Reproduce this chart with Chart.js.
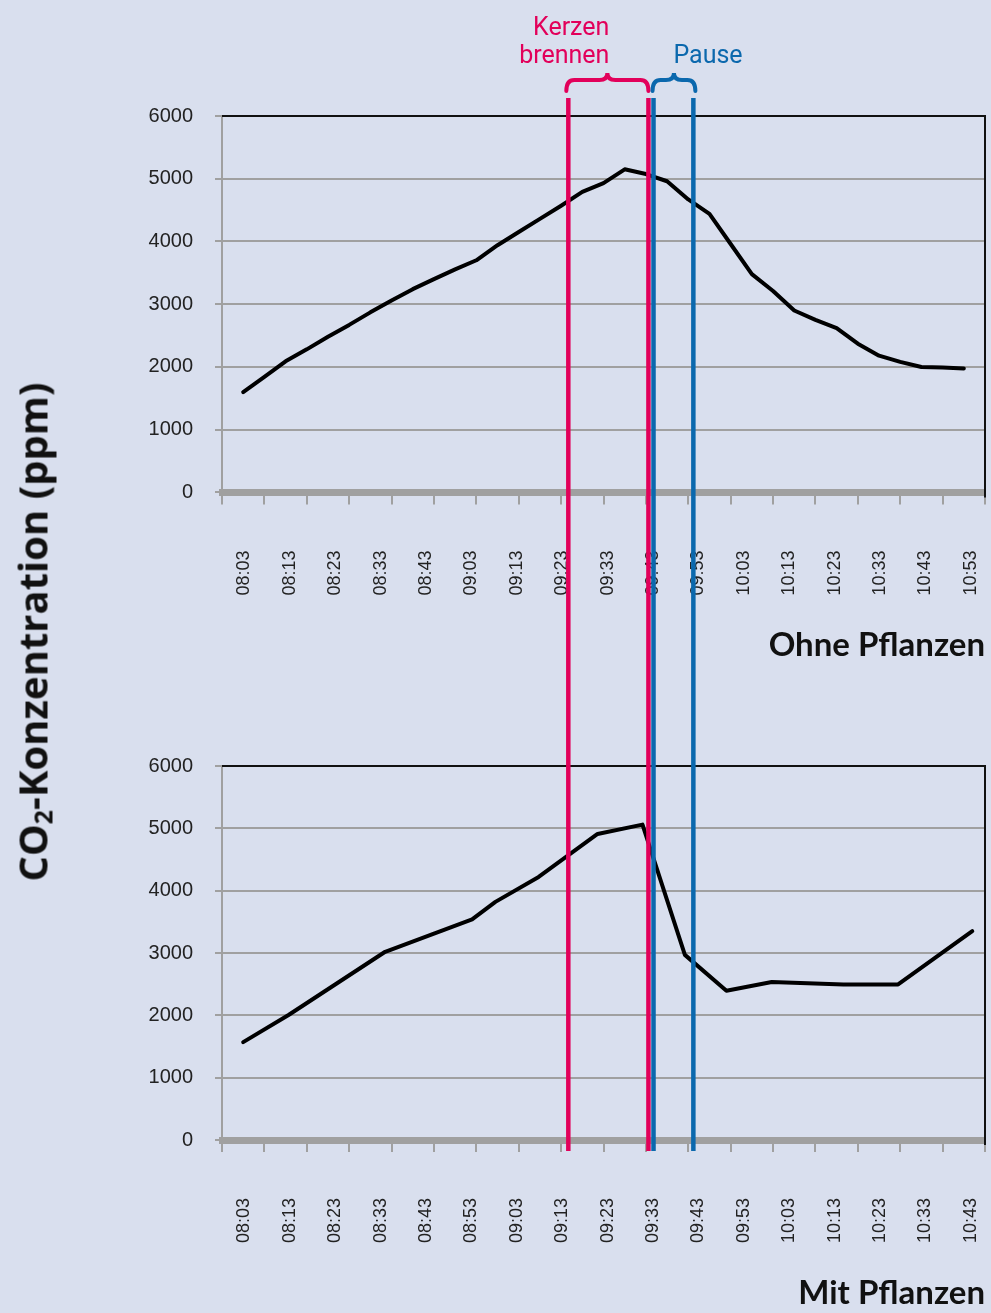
<!DOCTYPE html>
<html lang="de">
<head>
<meta charset="utf-8">
<title>CO2-Konzentration mit und ohne Pflanzen</title>
<script src="https://cdn.jsdelivr.net/npm/chart.js@4.4.1/dist/chart.umd.min.js"></script>
<style>
  html, body { margin: 0; padding: 0; background: #d9dfee; }
  #seite { position: relative; width: 991px; height: 1313px; overflow: hidden; }
  .box { position: absolute; left: 0; width: 991px; }
  .box canvas { display: block; }
  #box1 { top: 0; height: 665px; }
  #box2 { top: 665px; height: 648px; }
  #ytitel {
    position: absolute; left: 32px; top: 632px;
    transform: translate(-50%, -50%) rotate(-90deg);
    font: 700 40px "Open Sans", sans-serif; color: #111; white-space: nowrap;
  }
  #ytitel sub { font-size: 0.62em; vertical-align: -0.22em; line-height: 0; }
</style>
</head>
<body>
<div id="seite">
  <div class="box" id="box1"><canvas id="ohne"></canvas></div>
  <div class="box" id="box2"><canvas id="mit"></canvas></div>
  <div id="ytitel">CO<sub>2</sub>-Konzentration (ppm)</div>
</div>
<script>
// Messzeitpunkte in Minuten nach 08:03
var minutenOhne = [0, 5, 10, 15, 20, 25, 30, 35, 40, 45, 50, 55, 60, 65, 70, 75, 80, 85,
  90, 95, 100, 105, 110, 115, 120, 125, 130, 135, 140, 145, 150, 155, 160, 165, 170];
var ohnePflanzen = [1600, 1840, 2090, 2280, 2480, 2670, 2870, 3060, 3240, 3400, 3555, 3700,
  3940, 4150, 4360, 4570, 4790, 4930, 5150, 5075, 4960, 4670, 4440, 3960, 3480, 3210,
  2900, 2750, 2620, 2370, 2180, 2080, 2000, 1990, 1975];

var minutenMit = [0, 10.7, 33.5, 54, 59.5, 69.7, 83.6, 94.2, 104.2, 114, 124.7, 141.6, 154.5, 172];
var mitPflanzen = [1570, 2005, 3020, 3540, 3820, 4220, 4910, 5060, 2970, 2395, 2535, 2495, 2495, 3350];

// Beschriftung der Zeitachse
var zeitenOhne = ["08:03", "08:13", "08:23", "08:33", "08:43", "09:03", "09:13", "09:23", "09:33",
  "09:43", "09:53", "10:03", "10:13", "10:23", "10:33", "10:43", "10:53"];
var zeitenMit = ["08:03", "08:13", "08:23", "08:33", "08:43", "08:53", "09:03", "09:13", "09:23",
  "09:33", "09:43", "09:53", "10:03", "10:13", "10:23", "10:33", "10:43"];

// Phasen (Minuten nach 08:03)
var kerzen = [76.7, 95.6];
var pause = [96.8, 106.2];

var PINK = "#e2005a";
var BLAU = "#0b68ad";
var GRAU = "#a0a0a0";

function klammer(ctx, x0, x1, yBasis) {
  var xc = (x0 + x1) / 2, r = 8, ym = yBasis - 11, yt = yBasis - 18;
  ctx.beginPath();
  ctx.moveTo(x0, yBasis);
  ctx.quadraticCurveTo(x0, ym, x0 + r, ym);
  ctx.lineTo(xc - r, ym);
  ctx.quadraticCurveTo(xc, ym, xc, yt);
  ctx.quadraticCurveTo(xc, ym, xc + r, ym);
  ctx.lineTo(x1 - r, ym);
  ctx.quadraticCurveTo(x1, ym, x1, yBasis);
  ctx.stroke();
}

var markierung = {
  id: "markierung",
  afterDraw: function (chart, args, o) {
    var ctx = chart.ctx, a = chart.chartArea, sx = chart.scales.x;
    ctx.save();
    // Rahmen oben und rechts
    ctx.strokeStyle = "#111";
    ctx.lineWidth = 2;
    ctx.beginPath();
    ctx.moveTo(a.left, a.top);
    ctx.lineTo(a.right, a.top);
    ctx.lineTo(a.right, a.bottom + 5);
    ctx.stroke();

    // senkrechte Linien ueber beide Diagramme
    var y0 = o.oben ? a.top - 18 : 0;
    var y1 = o.oben ? chart.height : a.bottom + 11;
    var linien = [[kerzen[0], PINK], [kerzen[1], PINK], [pause[0], BLAU], [pause[1], BLAU]];
    ctx.lineWidth = 4.5;
    linien.forEach(function (l) {
      var px = sx.getPixelForValue(l[0]);
      ctx.strokeStyle = l[1];
      ctx.beginPath();
      ctx.moveTo(px, y0);
      ctx.lineTo(px, y1);
      ctx.stroke();
    });

    if (o.oben) {
      var k0 = sx.getPixelForValue(kerzen[0]), k1 = sx.getPixelForValue(kerzen[1]);
      var p0 = sx.getPixelForValue(pause[0]), p1 = sx.getPixelForValue(pause[1]);
      ctx.lineWidth = 4;
      ctx.lineCap = "round";
      ctx.strokeStyle = PINK;
      klammer(ctx, k0 - 2, k1, a.top - 25);
      ctx.strokeStyle = BLAU;
      klammer(ctx, p0 - 1, p1 + 2, a.top - 25);

      ctx.font = "25px Roboto, sans-serif";
      ctx.textBaseline = "alphabetic";
      ctx.fillStyle = PINK;
      ctx.textAlign = "right";
      var kc = (k0 + k1) / 2 + 1;
      ctx.fillText("Kerzen", kc, a.top - 81);
      ctx.fillText("brennen", kc, a.top - 53);
      ctx.fillStyle = BLAU;
      ctx.textAlign = "left";
      ctx.fillText("Pause", (p0 + p1) / 2, a.top - 53);
    }
    ctx.restore();
  }
};

function diagramm(id, minuten, werte, zeiten, titel, padTop, titelPad, oben) {
  var punkte = minuten.map(function (m, i) { return { x: m, y: werte[i] }; });
  return new Chart(id, {
    type: "line",
    data: {
      datasets: [{
        data: punkte,
        borderColor: "#000",
        borderWidth: 4,
        pointRadius: 0,
        tension: 0,
        borderCapStyle: "round",
        borderJoinStyle: "round",
        fill: false
      }]
    },
    plugins: [markierung],
    options: {
      responsive: true,
      maintainAspectRatio: false,
      animation: false,
      layout: { padding: { top: padTop, left: 122, right: 6, bottom: 0 } },
      plugins: {
        legend: { display: false },
        tooltip: { enabled: false },
        markierung: { oben: oben },
        title: {
          display: true,
          text: titel,
          position: "bottom",
          align: "end",
          color: "#111",
          font: { family: "Lato, sans-serif", weight: "bold", size: 33 },
          padding: { top: titelPad, bottom: 0 }
        }
      },
      scales: {
        x: {
          type: "linear",
          min: -5,
          max: 175,
          position: "bottom",
          weight: 0,
          afterBuildTicks: function (s) {
            s.ticks = [];
            for (var i = 0; i <= 18; i++) s.ticks.push({ value: s.min + i * (s.max - s.min) / 18 });
          },
          ticks: { display: false },
          grid: { drawOnChartArea: false, tickLength: 12, color: GRAU, lineWidth: 2 },
          border: { color: GRAU, width: 7 }
        },
        xl: {
          type: "linear",
          min: -0.4934,
          max: 16.313,
          position: "bottom",
          weight: 1,
          afterBuildTicks: function (s) {
            s.ticks = zeiten.map(function (z, i) { return { value: i }; });
          },
          afterFit: function (s) {
            s.height = 100;
            s.paddingLeft = 0;
            s.paddingRight = 0;
          },
          grid: { display: false, drawTicks: false },
          border: { display: false },
          ticks: {
            autoSkip: false,
            maxRotation: 90,
            minRotation: 90,
            padding: 46,
            color: "#222",
            font: { family: "'Liberation Sans', Arial, sans-serif", size: 18 },
            callback: function (v) { return zeiten[v]; }
          }
        },
        y: {
          min: 0,
          max: 6000,
          afterFit: function (s) { s.width = 100; },
          ticks: {
            stepSize: 1000,
            padding: 22,
            color: "#222",
            font: { family: "'Liberation Sans', Arial, sans-serif", size: 20 },
            callback: function (v) { return String(v); }
          },
          grid: { color: GRAU, lineWidth: 2, tickLength: 7 },
          border: { color: GRAU, width: 2 }
        }
      }
    }
  });
}

diagramm("ohne", minutenOhne, ohnePflanzen, zeitenOhne, "Ohne Pflanzen", 116, 21, true);
diagramm("mit", minutenMit, mitPflanzen, zeitenMit, "Mit Pflanzen", 101, 21.4, false);
</script>
</body>
</html>
